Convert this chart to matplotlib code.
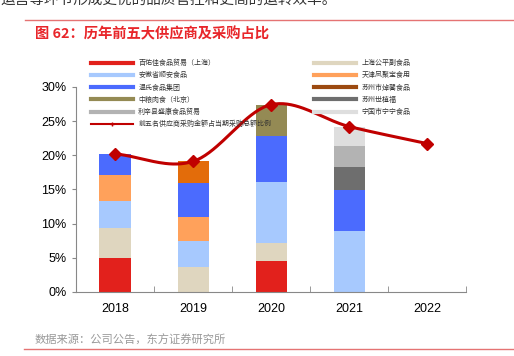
import numpy as np
import matplotlib
matplotlib.use("Agg")
import matplotlib.pyplot as plt
from matplotlib.lines import Line2D

plt.rcParams['font.family'] = ['Noto Sans CJK SC', 'DejaVu Sans']

# 数据
years = ["2018", "2019", "2020", "2021", "2022"]
suppliers = ["百佑佳食品贸易（上海）", "上海公平副食品", "安徽省顺安食品", "天津凤聚宝食用",
             "温氏食品集团", "苏州市焯馨食品", "中粮肉食（北京）", "苏州世植福",
             "利辛县盛康食品贸易", "宁国市宁宁食品"]
colors = ["#E2211C", "#DFD6BF", "#A7C9FE", "#FFA15B", "#4B6BFE",
          "#E36C0A", "#948A54", "#6E6E6E", "#B3B3B3", "#DEDEDE"]
legend_colors = colors.copy()
legend_colors[5] = "#9C4A10"

# 每家供应商各年的采购占比（%）
share = [
    [5.0, 0.0, 4.55, 0.0, 0.0],   # 百佑佳
    [4.4, 3.7, 2.65, 0.0, 0.0],   # 上海公平
    [3.9, 3.8, 8.85, 8.9, 0.0],   # 安徽顺安
    [3.8, 3.5, 0.0, 0.0, 0.0],    # 天津凤聚宝
    [3.15, 4.9, 6.75, 6.0, 0.0],  # 温氏
    [0.0, 3.3, 0.0, 0.0, 0.0],    # 苏州焯馨
    [0.0, 0.0, 4.6, 0.0, 0.0],    # 中粮肉食
    [0.0, 0.0, 0.0, 3.4, 0.0],    # 苏州世植福
    [0.0, 0.0, 0.0, 3.05, 0.0],   # 利辛盛康
    [0.0, 0.0, 0.0, 2.75, 0.0],   # 宁国宁宁
]
top5_ratio = [20.2, 19.1, 27.4, 24.2, 21.7]
line_label = "前五名供应商采购金额占当期采购总额比例"


def catmull_rom(xs, ys, n=40):
    # 平滑曲线（类似 Excel 平滑线）
    px = np.concatenate([[2 * xs[0] - xs[1]], xs, [2 * xs[-1] - xs[-2]]])
    py = np.concatenate([[2 * ys[0] - ys[1]], ys, [2 * ys[-1] - ys[-2]]])
    outx, outy = [], []
    for i in range(1, len(px) - 2):
        t = np.linspace(0, 1, n)
        for arr, out in ((px, outx), (py, outy)):
            p0, p1, p2, p3 = arr[i - 1], arr[i], arr[i + 1], arr[i + 2]
            out.extend(0.5 * (2 * p1 + (-p0 + p2) * t
                              + (2 * p0 - 5 * p1 + 4 * p2 - p3) * t ** 2
                              + (-p0 + 3 * p1 - 3 * p2 + p3) * t ** 3))
    return np.array(outx), np.array(outy)


fig = plt.figure(figsize=(5.14, 3.56), dpi=100)
ax = fig.add_axes([0.148, 0.180, 0.759, 0.576])

x = np.arange(len(years))
bottom = np.zeros(len(years))
for vals, c in zip(share, colors):
    vals = np.array(vals)
    ax.bar(x, vals, 0.4, bottom=bottom, color=c, linewidth=0)
    bottom += vals

sx, sy = catmull_rom(x.astype(float), np.array(top5_ratio))
ax.plot(sx, sy, color="#C00000", lw=2.2, zorder=5)
ax.plot(x, top5_ratio, ls="none", marker="D", ms=6, color="#C00000", zorder=6)

ax.set_xlim(-0.5, 4.5)
ax.set_ylim(0, 30)
ax.set_yticks(np.arange(0, 31, 5))
ax.set_yticklabels([f"{v}%" for v in range(0, 31, 5)], family="Liberation Sans", fontsize=9)
ax.set_xticks(x)
ax.set_xticklabels(years, family="Liberation Sans", fontsize=9)
ax.set_xticks(np.arange(-0.5, 5, 1), minor=True)
ax.tick_params(axis="x", which="major", length=0, pad=8)
ax.tick_params(axis="x", which="minor", direction="in", length=4, color="#888888")
ax.tick_params(axis="y", length=3, color="#888888", pad=4)
for s in ["top", "right"]:
    ax.spines[s].set_visible(False)
for s in ["left", "bottom"]:
    ax.spines[s].set_color("#888888")

# 图例
handles = [Line2D([], [], color=c, lw=3) for c in legend_colors]
labels = list(suppliers)
line_h = Line2D([], [], color="#C00000", lw=1.5, marker="+", ms=3)
order = [0, 2, 4, 6, 8, 1, 3, 5, 7, 9]
h = [handles[i] for i in order[:5]] + [line_h] + [handles[i] for i in order[5:]]
l = [labels[i] for i in order[:5]] + [line_label] + [labels[i] for i in order[5:]]
fig.legend(h, l, ncol=2, loc="upper left", bbox_to_anchor=(0.165, 0.852),
           frameon=False, fontsize=5, handlelength=6, columnspacing=6.2,
           labelspacing=0.62, handletextpad=0.8, labelcolor="#333333")

# 标题与来源
fig.text(0.068, 0.905, "图 62：历年前五大供应商及采购占比", color="#E8262A",
         fontsize=10.3, fontweight="bold", va="center")
fig.text(0.068, 0.045, "数据来源：公司公告，东方证券研究所", color="#999999",
         fontsize=8.1, va="center")
fig.text(0.0, 1.0, "运营等环节形成更优的品质管控和更高的运转效率。", color="#333333",
         fontsize=10.5, va="center")
fig.add_artist(Line2D([0.048, 1.0], [0.944, 0.944], color="#E57373", lw=1))
fig.add_artist(Line2D([0.046, 1.0], [0.02, 0.02], color="#E57373", lw=1))

fig.savefig("out.png", dpi=100)
